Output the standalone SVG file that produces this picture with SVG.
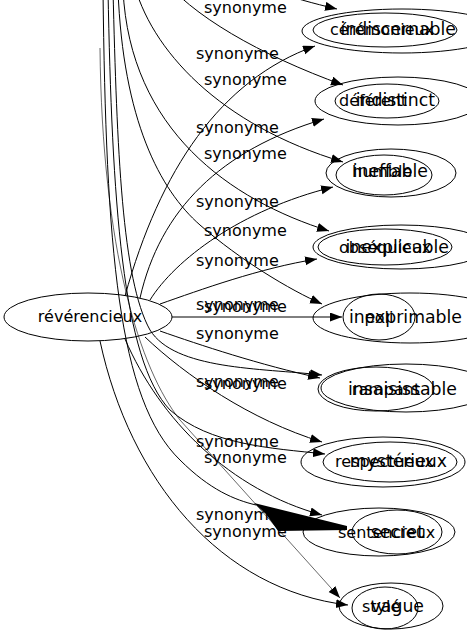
<svg xmlns="http://www.w3.org/2000/svg" width="467" height="635" viewBox="0 0 467 635">
<style>
text{font-family:"DejaVu Sans","Liberation Sans",sans-serif;font-size:16px;fill:#000;text-anchor:middle}
ellipse{fill:none;stroke:#000;stroke-width:1}
.e{fill:none;stroke:#000;stroke-width:1}
.t{stroke-width:0.6}
.lbl,.s{text-anchor:start}
.b{font-size:17.3px;text-anchor:end}
</style>
<defs>
<marker id="ah" markerUnits="userSpaceOnUse" markerWidth="13" markerHeight="10" refX="12" refY="4.5" orient="auto">
<path d="M0,0 L12,4.5 L0,9 z" fill="#000"/>
</marker>
</defs>
<rect width="467" height="635" fill="#fff"/>
<g id="edges">
<path class="e" marker-end="url(#ah)" d="M125,296 C160,170 220,80 315,46"/>
<path class="e" marker-end="url(#ah)" d="M140,298 C160,210 220,150 324,119"/>
<path class="e" marker-end="url(#ah)" d="M150,300 C175,260 240,210 333,187"/>
<path class="e" marker-end="url(#ah)" d="M160,304 C200,290 260,268 317,259"/>
<path class="e" marker-end="url(#ah)" d="M172,317 L342,317"/>
<path class="e" marker-end="url(#ah)" d="M160,331 C200,345 260,365 320,378"/>
<path class="e" marker-end="url(#ah)" d="M145,337 C185,375 250,420 322,442"/>
<path class="e" marker-end="url(#ah)" d="M125,339 C160,420 230,490 322,515"/>
<path class="e" marker-end="url(#ah)" d="M100,341 C130,480 220,590 348,605"/>
<path class="e" marker-end="url(#ah)" d="M200,-40 C250,-15 290,-2 337,9"/>
<path class="e" marker-end="url(#ah)" d="M160,-25 C190,15 260,55 343,85"/>
<path class="e" marker-end="url(#ah)" d="M133,-20 C150,50 220,125 343,162"/>
<path class="e" marker-end="url(#ah)" d="M123,-10 C130,130 230,200 329,231"/>
<path class="e" marker-end="url(#ah)" d="M118,-10 C123,120 160,190 200,225 C240,260 290,290 322,304"/>
<path class="e" marker-end="url(#ah)" d="M113,-10 C117,150 122,280 150,330 C175,370 260,368 322,375"/>
<path class="e" marker-end="url(#ah)" d="M108,-10 C112,200 122,360 170,410 C210,445 270,448 325,454"/>
<path class="e" d="M103,-10 C106,250 118,400 180,460 C210,490 235,500 256,505"/>
<polygon points="254,503 347,526 347,530 278,531 266,514" fill="#000"/>
<path class="e t" marker-end="url(#ah)" d="M100,48 C102,250 140,370 180,420 L340,598"/>
<text class="lbl" x="204" y="13">synonyme</text>
<text class="lbl" x="196" y="59">synonyme</text>
<text class="lbl" x="204" y="85">synonyme</text>
<text class="lbl" x="196" y="133">synonyme</text>
<text class="lbl" x="204" y="159">synonyme</text>
<text class="lbl" x="196" y="207">synonyme</text>
<text class="lbl" x="204" y="236">synonyme</text>
<text class="lbl" x="196" y="266">synonyme</text>
<text class="lbl" x="196" y="310">synonyme</text>
<text class="lbl" x="204" y="312">synonyme</text>
<text class="lbl" x="196" y="339">synonyme</text>
<text class="lbl" x="196" y="387">synonyme</text>
<text class="lbl" x="204" y="389">synonyme</text>
<text class="lbl" x="196" y="447">synonyme</text>
<text class="lbl" x="204" y="463">synonyme</text>
<text class="lbl" x="196" y="520">synonyme</text>
<text class="lbl" x="204" y="537">synonyme</text>
</g>
<g id="reverencieux"><ellipse cx="88" cy="317" rx="84" ry="24"/><text x="90" y="322">révérencieux</text></g>
<g id="indiscernable"><ellipse cx="402" cy="31" rx="100" ry="22"/><text class="b" x="456" y="35">indiscernable</text></g>
<g id="ceremonieux"><ellipse cx="385" cy="30" rx="72" ry="17"/><text class="s" x="330" y="35">cérémonieux</text></g>
<g id="indistinct"><ellipse cx="398" cy="101" rx="83" ry="24"/><text class="b" x="435" y="106">indistinct</text></g>
<g id="deferent"><ellipse cx="387" cy="101" rx="52" ry="17"/><text class="s" x="339" y="106">déférent</text></g>
<g id="ineffable"><ellipse cx="391" cy="173" rx="65" ry="24"/><text class="b" x="428" y="177">ineffable</text></g>
<g id="humble"><ellipse cx="384" cy="175" rx="48" ry="20"/><text class="s" x="352" y="177">humble</text></g>
<g id="inexplicable"><ellipse cx="401" cy="247" rx="88" ry="22"/><text class="b" x="449" y="253">inexplicable</text></g>
<g id="obsequieux"><ellipse cx="385" cy="247" rx="67" ry="18"/><text class="s" x="339" y="253">obséquieux</text></g>
<g id="inexprimable"><ellipse cx="410" cy="318" rx="97" ry="25"/><text class="b" x="462" y="323">inexprimable</text></g>
<g id="poli"><ellipse cx="379" cy="317" rx="36" ry="23"/><text x="379" y="323">poli</text></g>
<g id="insaisissable"><ellipse cx="406" cy="388" rx="85" ry="24"/><text class="b" x="457" y="395">insaisissable</text></g>
<g id="rampant"><ellipse cx="376" cy="389" rx="58" ry="22"/><text x="386" y="395">rampant</text></g>
<g id="respectueux"><ellipse cx="383" cy="462" rx="82" ry="25"/><text class="s" x="335" y="467">respectueux</text></g>
<g id="mysterieux"><ellipse cx="390" cy="462" rx="67" ry="20"/><text class="b" x="447" y="467">mystérieux</text></g>
<g id="sentencieux"><ellipse cx="379" cy="532" rx="76" ry="24"/><text class="s" x="338" y="538">sentencieux</text></g>
<g id="secret"><ellipse cx="397" cy="532" rx="45" ry="22"/><text class="b" x="424" y="538">secret</text></g>
<g id="vague"><ellipse cx="391" cy="606" rx="52" ry="23"/><text class="b" x="424" y="612">vague</text></g>
<g id="style"><ellipse cx="385" cy="608" rx="33" ry="21"/><text class="s" x="362" y="612">stylé</text></g>
</svg>
